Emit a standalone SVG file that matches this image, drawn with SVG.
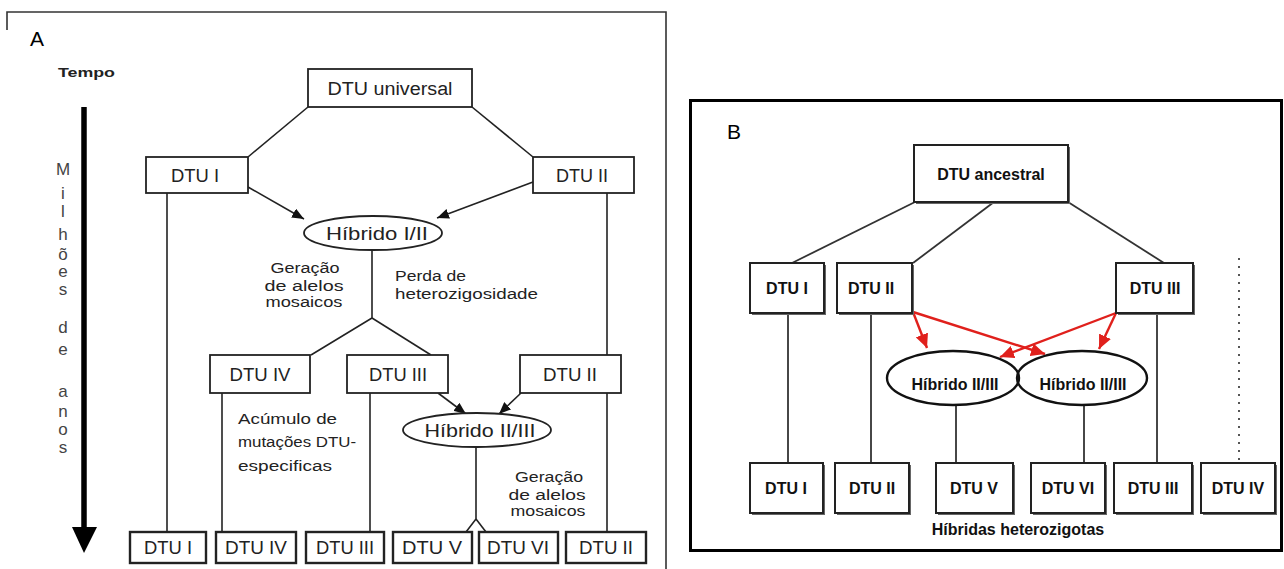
<svg xmlns="http://www.w3.org/2000/svg" width="1284" height="569" viewBox="0 0 1284 569">
<style>
.bg{fill:#fff}
.boxA{fill:#fff;stroke:#222;stroke-width:1.8}
.boxA2{fill:#fff;stroke:#222;stroke-width:2.4}
.boxB{fill:#fff;stroke:#222;stroke-width:2}
.shB{fill:#666}
.ln{fill:none;stroke:#222;stroke-width:1.6}
.lnB{fill:none;stroke:#333;stroke-width:1.8}
.red{fill:none;stroke:#e0201c;stroke-width:2.4}
.ellA{fill:#fff;stroke:#222;stroke-width:1.8}
.ellB{fill:none;stroke:#111;stroke-width:2.4}
.tA{font-family:"Liberation Sans",Arial,sans-serif;font-size:18px;fill:#222;text-anchor:middle}
.tAs{font-family:"Liberation Sans",Arial,sans-serif;font-size:14px;fill:#222}
.tV{font-family:"Liberation Sans",Arial,sans-serif;font-size:17px;fill:#444;text-anchor:middle}
.tB{font-family:"Liberation Sans",Arial,sans-serif;font-size:16px;font-weight:bold;fill:#111;text-anchor:middle}
.lab{font-family:"Liberation Sans",Arial,sans-serif;font-size:21px;fill:#000}
</style>
<defs>
<marker id="ahA" viewBox="0 0 12 10" refX="12" refY="5" markerWidth="12" markerHeight="10" orient="auto" markerUnits="userSpaceOnUse"><path d="M0,0 L12,5 L0,10 z" fill="#111"/></marker>
<marker id="ahR" viewBox="0 0 14 13" refX="14" refY="6.5" markerWidth="14" markerHeight="13" orient="auto" markerUnits="userSpaceOnUse"><path d="M0,0 L14,6.5 L0,13 z" fill="#e0201c"/></marker>
</defs>
<rect class="bg" x="0" y="0" width="1284" height="569"/>

<!-- Panel A -->
<g id="panelA-frame">
<path d="M7,30 V12 H666 V569" fill="none" stroke="#333" stroke-width="1.6"/>
<text class="lab" x="30" y="46">A</text>
</g>
<g id="time-axis">
<text x="58" y="77" font-family="Liberation Sans, Arial, sans-serif" font-size="13" font-weight="bold" fill="#222" textLength="57" lengthAdjust="spacingAndGlyphs">Tempo</text>
<line x1="84" y1="107" x2="84" y2="530" stroke="#000" stroke-width="5.5"/>
<polygon points="72,527 97,527 84,553" fill="#000"/>
<text class="tV"><tspan x="63" y="175">M</tspan><tspan x="63" y="199">i</tspan><tspan x="63" y="217">l</tspan><tspan x="63" y="240">h</tspan><tspan x="63" y="260">õ</tspan><tspan x="63" y="277">e</tspan><tspan x="63" y="295">s</tspan><tspan x="63" y="333">d</tspan><tspan x="63" y="355">e</tspan><tspan x="63" y="397">a</tspan><tspan x="63" y="417">n</tspan><tspan x="63" y="435">o</tspan><tspan x="63" y="453">s</tspan></text>
</g>

<g id="connectorsA">
<line class="ln" x1="308" y1="107" x2="248" y2="157"/>
<line class="ln" x1="472" y1="107" x2="533" y2="157"/>
<line class="ln" x1="248" y1="187" x2="304" y2="219" marker-end="url(#ahA)"/>
<line class="ln" x1="533" y1="182" x2="437" y2="218" marker-end="url(#ahA)"/>
<line class="ln" x1="167" y1="193" x2="167" y2="532"/>
<line class="ln" x1="607" y1="193" x2="607" y2="355"/>
<polyline class="ln" points="372,250 372,318 311,355"/>
<line class="ln" x1="372" y1="318" x2="431" y2="355"/>
<line class="ln" x1="222" y1="393" x2="222" y2="532"/>
<line class="ln" x1="370" y1="393" x2="370" y2="532"/>
<line class="ln" x1="607" y1="393" x2="607" y2="532"/>
<line class="ln" x1="438" y1="393" x2="466" y2="414" marker-end="url(#ahA)"/>
<line class="ln" x1="521" y1="393" x2="499" y2="414" marker-end="url(#ahA)"/>
<polyline class="ln" points="476,447 476,519 466,532"/>
<line class="ln" x1="476" y1="519" x2="486" y2="532"/>
</g>

<g id="A-universal"><rect class="boxA" x="308" y="69" width="164" height="38"/><text class="tA" x="390" y="95" textLength="125" lengthAdjust="spacingAndGlyphs">DTU universal</text></g>
<g id="A-dtu1"><rect class="boxA" x="146" y="157" width="102" height="36"/><text class="tA" x="195" y="182" textLength="48" lengthAdjust="spacingAndGlyphs">DTU I</text></g>
<g id="A-dtu2"><rect class="boxA" x="533" y="157" width="101" height="36"/><text class="tA" x="582" y="182" textLength="52" lengthAdjust="spacingAndGlyphs">DTU II</text></g>
<g id="A-hib12"><ellipse class="ellA" cx="373" cy="233" rx="69" ry="17"/><text class="tA" x="377" y="240" textLength="102" lengthAdjust="spacingAndGlyphs">Híbrido I/II</text></g>
<g id="A-label-geracao1">
<text class="tAs" x="305" y="273" text-anchor="middle" textLength="69" lengthAdjust="spacingAndGlyphs">Geração</text>
<text class="tAs" x="304" y="291" text-anchor="middle" textLength="79" lengthAdjust="spacingAndGlyphs">de alelos</text>
<text class="tAs" x="304" y="307" text-anchor="middle" textLength="77" lengthAdjust="spacingAndGlyphs">mosaicos</text>
</g>
<g id="A-label-perda">
<text class="tAs" x="395" y="281" textLength="71" lengthAdjust="spacingAndGlyphs">Perda de</text>
<text class="tAs" x="395" y="299" textLength="143" lengthAdjust="spacingAndGlyphs">heterozigosidade</text>
</g>
<g id="A-dtu4"><rect class="boxA" x="210" y="355" width="100" height="38"/><text class="tA" x="260" y="381" textLength="61" lengthAdjust="spacingAndGlyphs">DTU IV</text></g>
<g id="A-dtu3"><rect class="boxA" x="347" y="355" width="101" height="38"/><text class="tA" x="398" y="381" textLength="58" lengthAdjust="spacingAndGlyphs">DTU III</text></g>
<g id="A-dtu2b"><rect class="boxA" x="520" y="355" width="101" height="38"/><text class="tA" x="570" y="381" textLength="54" lengthAdjust="spacingAndGlyphs">DTU II</text></g>
<g id="A-label-acumulo">
<text class="tAs" x="238" y="424" textLength="99" lengthAdjust="spacingAndGlyphs">Acúmulo de</text>
<text class="tAs" x="238" y="447" textLength="118" lengthAdjust="spacingAndGlyphs">mutações DTU-</text>
<text class="tAs" x="238" y="471" textLength="94" lengthAdjust="spacingAndGlyphs">especificas</text>
</g>
<g id="A-hib23"><ellipse class="ellA" cx="477" cy="430" rx="74" ry="17"/><text class="tA" x="480" y="437" textLength="111" lengthAdjust="spacingAndGlyphs">Híbrido II/III</text></g>
<g id="A-label-geracao2">
<text class="tAs" x="549" y="482" text-anchor="middle" textLength="68" lengthAdjust="spacingAndGlyphs">Geração</text>
<text class="tAs" x="547" y="500" text-anchor="middle" textLength="77" lengthAdjust="spacingAndGlyphs">de alelos</text>
<text class="tAs" x="548" y="516" text-anchor="middle" textLength="75" lengthAdjust="spacingAndGlyphs">mosaicos</text>
</g>
<g id="A-b-dtu1"><rect class="boxA2" x="130" y="532" width="76" height="31"/><text class="tA" x="168" y="554" textLength="48" lengthAdjust="spacingAndGlyphs">DTU I</text></g>
<g id="A-b-dtu4"><rect class="boxA2" x="216" y="532" width="80" height="31"/><text class="tA" x="256" y="554" textLength="62" lengthAdjust="spacingAndGlyphs">DTU IV</text></g>
<g id="A-b-dtu3"><rect class="boxA2" x="306" y="532" width="78" height="31"/><text class="tA" x="345" y="554" textLength="58" lengthAdjust="spacingAndGlyphs">DTU III</text></g>
<g id="A-b-dtu5"><rect class="boxA2" x="393" y="532" width="79" height="31"/><text class="tA" x="432" y="554" textLength="60" lengthAdjust="spacingAndGlyphs">DTU V</text></g>
<g id="A-b-dtu6"><rect class="boxA2" x="479" y="532" width="79" height="31"/><text class="tA" x="518" y="554" textLength="62" lengthAdjust="spacingAndGlyphs">DTU VI</text></g>
<g id="A-b-dtu2"><rect class="boxA2" x="566" y="532" width="80" height="31"/><text class="tA" x="606" y="554" textLength="54" lengthAdjust="spacingAndGlyphs">DTU II</text></g>

<!-- Panel B -->
<g id="panelB-frame">
<rect x="690.5" y="100.5" width="591" height="450" fill="none" stroke="#000" stroke-width="3"/>
<text class="lab" x="727" y="139">B</text>
</g>
<g id="connectorsB">
<line class="lnB" x1="915" y1="202" x2="792" y2="263"/>
<line class="lnB" x1="994" y1="202" x2="913" y2="263"/>
<line class="lnB" x1="1068" y1="202" x2="1164" y2="263"/>
<line class="lnB" x1="788" y1="313" x2="788" y2="463"/>
<line class="lnB" x1="871" y1="313" x2="871" y2="463"/>
<line class="lnB" x1="1157" y1="313" x2="1157" y2="463"/>
<line class="lnB" x1="956" y1="405" x2="956" y2="463"/>
<line class="lnB" x1="1084" y1="405" x2="1084" y2="463"/>
<line x1="1239" y1="258" x2="1239" y2="463" stroke="#555" stroke-width="2" stroke-dasharray="2,6"/>
<line class="red" x1="913" y1="312" x2="927" y2="348" marker-end="url(#ahR)"/>
<line class="red" x1="913" y1="312" x2="1045" y2="354" marker-end="url(#ahR)"/>
<line class="red" x1="1116" y1="313" x2="1000" y2="357" marker-end="url(#ahR)"/>
<line class="red" x1="1116" y1="313" x2="1099" y2="349" marker-end="url(#ahR)"/>
</g>
<g id="B-ancestral"><rect class="shB" x="916" y="147" width="154" height="57"/><rect class="boxB" x="914" y="145" width="154" height="57"/><text class="tB" x="991" y="180" font-size="17">DTU ancestral</text></g>
<g id="B-dtu1"><rect class="shB" x="752" y="265" width="74" height="50"/><rect class="boxB" x="750" y="263" width="74" height="50"/><text class="tB" x="787" y="294">DTU I</text></g>
<g id="B-dtu2"><rect class="shB" x="839" y="265" width="75" height="50"/><rect class="boxB" x="837" y="263" width="75" height="50"/><text class="tB" x="871" y="294">DTU II</text></g>
<g id="B-dtu3"><rect class="shB" x="1118" y="265" width="77" height="50"/><rect class="boxB" x="1116" y="263" width="77" height="50"/><text class="tB" x="1155" y="294">DTU III</text></g>
<g id="B-hib1"><ellipse class="ellB" cx="953" cy="378" rx="66" ry="27"/><text class="tB" x="955" y="390" font-size="18">Híbrido II/III</text></g>
<g id="B-hib2"><ellipse class="ellB" cx="1082" cy="378" rx="65" ry="27"/><text class="tB" x="1083" y="390" font-size="18">Híbrido II/III</text></g>
<g id="B-b-dtu1"><rect class="shB" x="752" y="465" width="73" height="50"/><rect class="boxB" x="750" y="463" width="73" height="50"/><text class="tB" x="786" y="494">DTU I</text></g>
<g id="B-b-dtu2"><rect class="shB" x="837" y="465" width="74" height="50"/><rect class="boxB" x="835" y="463" width="74" height="50"/><text class="tB" x="872" y="494">DTU II</text></g>
<g id="B-b-dtu5"><rect class="shB" x="938" y="465" width="77" height="50"/><rect class="boxB" x="936" y="463" width="77" height="50"/><text class="tB" x="974" y="494">DTU V</text></g>
<g id="B-b-dtu6"><rect class="shB" x="1033" y="465" width="74" height="50"/><rect class="boxB" x="1031" y="463" width="74" height="50"/><text class="tB" x="1068" y="494">DTU VI</text></g>
<g id="B-b-dtu3"><rect class="shB" x="1116" y="465" width="78" height="50"/><rect class="boxB" x="1114" y="463" width="78" height="50"/><text class="tB" x="1153" y="494">DTU III</text></g>
<g id="B-b-dtu4"><rect class="shB" x="1203" y="465" width="74" height="50"/><rect class="boxB" x="1201" y="463" width="74" height="50"/><text class="tB" x="1238" y="494">DTU IV</text></g>
<g id="B-label"><text class="tB" x="1018" y="535" font-size="17">Híbridas heterozigotas</text></g>
</svg>
